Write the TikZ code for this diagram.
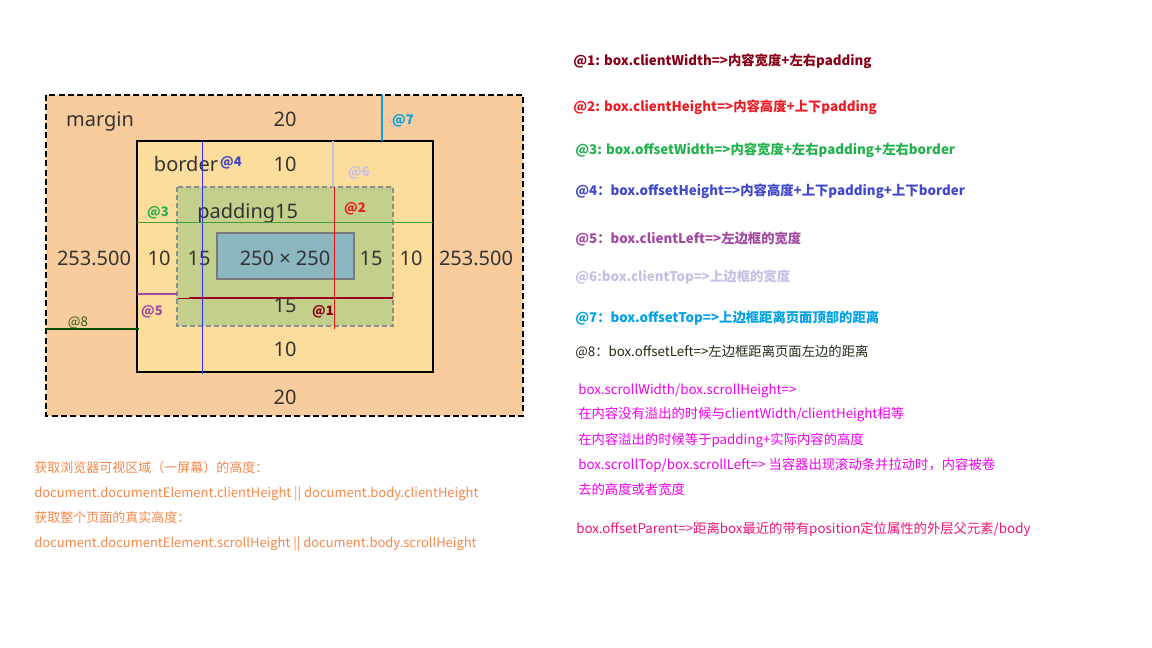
\documentclass[tikz,border=0pt]{standalone}
\usepackage{fontspec}
\setmainfont{Noto Sans}
\newfontfamily\cjk{Noto Sans CJK SC}
\definecolor{marginc}{HTML}{F9CC9D}
\definecolor{borderc}{HTML}{FDDD9B}
\definecolor{paddingc}{HTML}{C3D08B}
\definecolor{contentc}{HTML}{8CB6C0}
\definecolor{numgray}{HTML}{333333}
\definecolor{cA}{HTML}{880015}
\definecolor{cB}{HTML}{ED1C24}
\definecolor{cC}{HTML}{22B14C}
\definecolor{cD}{HTML}{3F48CC}
\definecolor{cE}{HTML}{A349A4}
\definecolor{cF}{HTML}{C8BFE7}
\definecolor{cG}{HTML}{00A2E8}
\definecolor{cH}{HTML}{1E2E14}
\definecolor{cHline}{HTML}{004D00}
\definecolor{cHtag}{HTML}{2E5A1A}
\definecolor{cMag}{HTML}{F000F0}
\definecolor{cPink}{HTML}{F01478}
\definecolor{cOr}{HTML}{F7884A}
\definecolor{lineblue}{HTML}{3030FF}
\definecolor{linegreen}{HTML}{3CA03C}
\definecolor{linered}{HTML}{E81010}
\definecolor{linedred}{HTML}{990022}
\begin{document}
\begin{tikzpicture}[x=0.75pt,y=-0.75pt,
  num/.style={font=\fontsize{15}{18}\selectfont, text=numgray, inner sep=0pt, anchor=base},
  tag/.style={font=\cjk\bfseries\fontsize{9.8}{11}\selectfont, inner sep=0pt},
  note/.style={font=\cjk\fontsize{10}{12}\selectfont, inner sep=0pt, anchor=base west},
  onote/.style={note, font=\cjk\fontsize{9.75}{12}\selectfont},
  bnote/.style={note, font=\cjk\bfseries\fontsize{10}{12}\selectfont},
  mline/.style={line cap=butt}]
\useasboundingbox[fill=white] (0,0) rectangle (1152,648);

% boxes
\draw[fill=marginc, line width=1.5pt, dash pattern=on 4.5pt off 2.5pt] (46,95) rectangle (523,416);
\draw[fill=borderc, line width=1.5pt] (137,141) rectangle (433,372);
\draw[fill=paddingc, draw=gray!90, line width=1.5pt, dash pattern=on 4pt off 2pt] (177,187) rectangle (393,326);
\draw[fill=contentc, draw=gray!95!black, line width=1.5pt] (217,233) rectangle (354,279);

% labels of the box model
\node[num] (tmargin) at (100,127) {margin};
\node[num] (t20a) at (285,127) {20};
\node[num] (tborder) at (186,172) {border};
\node[num] (t10a) at (285,172) {10};
\node[num, anchor=base west] (tpad) at (197,219) {padding15};
\node[num] (tl253) at (94,266) {253.500};
\node[num] (tl10) at (159,266) {10};
\node[num] (tl15) at (199,266) {15};
\node[num] (tcontent) at (285,266) {250 × 250};
\node[num] (tr15) at (371,266) {15};
\node[num] (tr10) at (411,266) {10};
\node[num] (tr253) at (476,266) {253.500};
\node[num] (t15b) at (285,313) {15};
\node[num] (t10b) at (285,357) {10};
\node[num] (t20b) at (285,404) {20};

% measurement lines
\coordinate (a4t) at (202,141); \coordinate (a4b) at (202,374);
\coordinate (a3l) at (137,223); \coordinate (a3r) at (433,223);
\coordinate (a2t) at (334,187); \coordinate (a2b) at (334,329);
\coordinate (a6t) at (333,141); \coordinate (a6b) at (333,187);
\coordinate (a7t) at (382,95);  \coordinate (a7b) at (382,141);
\coordinate (a1l) at (189,298); \coordinate (a1r) at (393,298);
\coordinate (a1s) at (178,298);
\coordinate (a5l) at (137,294); \coordinate (a5r) at (177,294);
\coordinate (a8l) at (46,329);  \coordinate (a8r) at (139,329);

\draw[mline, lineblue, line width=0.75pt] (a4t) -- (a4b);
\draw[mline, linegreen, line width=0.75pt] (a3l) -- (a3r);
\draw[mline, linered, line width=0.75pt] (a2t) -- (a2b);
\draw[mline, cF, line width=2pt] (a6t) -- (a6b);
\draw[mline, cG, line width=2.2pt] (a7t) -- (a7b);
\draw[mline, linedred, line width=0.6pt] (a1s) -- (a1l);
\draw[mline, linedred, line width=1.2pt] (a1l) -- (a1r);
\draw[mline, cE, line width=2pt] (a5l) -- (a5r);
\draw[mline, cHline, line width=2.2pt] (a8l) -- (a8r);

\node[tag, text=cD] (g4) at (231,163) {@4};
\node[tag, text=cC] (g3) at (158,213) {@3};
\node[tag, text=cG] (g7) at (403,121) {@7};
\node[tag, text=cF] (g6) at (359,173) {@6};
\node[tag, text=cB] (g2) at (355,209) {@2};
\node[tag, text=cE] (g5) at (152,312) {@5};
\node[tag, text=cHtag, font=\cjk\fontsize{10}{11}\selectfont] (g8) at (78,323) {@8};
\node[tag, text=cA] (g1) at (323,312) {@1};

% right-hand notes
\node[bnote, text=cA] (n1) at (573,66) {@1: box.clientWidth=>内容宽度+左右padding};
\node[bnote, text=cB] (n2) at (573,112) {@2: box.clientHeight=>内容高度+上下padding};
\node[bnote, text=cC] (n3) at (575,155) {@3: box.offsetWidth=>内容宽度+左右padding+左右border};
\node[bnote, text=cD] (n4) at (575,196) {@4：box.offsetHeight=>内容高度+上下padding+上下border};
\node[bnote, text=cE] (n5) at (575,244) {@5：box.clientLeft=>左边框的宽度};
\node[bnote, text=cF] (n6) at (575,282) {@6:box.clientTop=>上边框的宽度};
\node[bnote, text=cG] (n7) at (575,323) {@7：box.offsetTop=>上边框距离页面顶部的距离};
\node[note, text=cH] (n8) at (575,357) {@8：box.offsetLeft=>左边框距离页面左边的距离};

\node[note, text=cMag] (s1) at (578,394) {box.scrollWidth/box.scrollHeight=>};
\node[note, text=cMag] (s2) at (578,418) {在内容没有溢出的时候与clientWidth/clientHeight相等};
\node[note, text=cMag] (s3) at (578,444) {在内容溢出的时候等于padding+实际内容的高度};
\node[note, text=cMag] (s4) at (578,469) {box.scrollTop/box.scrollLeft=> 当容器出现滚动条并拉动时，内容被卷};
\node[note, text=cMag] (s5) at (578,494) {去的高度或者宽度};
\node[note, text=cPink] (s6) at (576,533) {box.offsetParent=>距离box最近的带有position定位属性的外层父元素/body};

% bottom-left notes
\node[onote, text=cOr] (o1) at (34,472) {获取浏览器可视区域（一屏幕）的高度：};
\node[onote, text=cOr] (o2) at (34,497) {document.documentElement.clientHeight || document.body.clientHeight};
\node[onote, text=cOr] (o3) at (34,522) {获取整个页面的真实高度：};
\node[onote, text=cOr] (o4) at (34,547) {document.documentElement.scrollHeight || document.body.scrollHeight};
\end{tikzpicture}
\end{document}
